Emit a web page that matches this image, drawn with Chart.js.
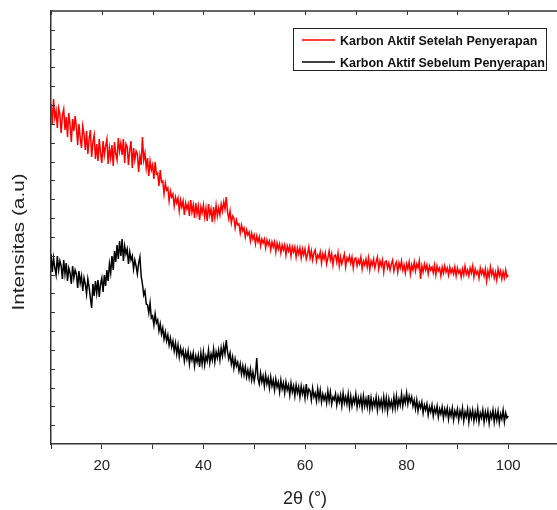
<!DOCTYPE html>
<html>
<head>
<meta charset="utf-8">
<script src="https://cdn.jsdelivr.net/npm/chart.js@4"></script>
<style>
  html, body { margin: 0; padding: 0; background: #fff; overflow: hidden; }
  #wrap { width: 557px; height: 510px; overflow: hidden; }
</style>
</head>
<body>
<div id="wrap"><canvas id="xrdChart" width="565" height="510"></canvas></div>
<script>
// 2θ grid of the scan (degrees)
const thetaStart = 10;
const thetaStep = 0.25;

// intensity (a.u.), one row per degree (x.00, x.25, x.50, x.75)
const setelah = [
  340, 320, 345, 326,  333, 316, 336, 330,  311, 329, 335, 314,  327, 307, 331, 319,  302, 325, 313, 328,
  317, 299, 320, 306,  296, 318, 310, 294,  313, 290, 305, 314,  287, 302, 309, 285,  300, 283, 305, 291,
  281, 303, 289, 298,  305, 280, 296, 286,  299, 278, 302, 290,  284, 306, 293, 301,  289, 305, 281, 300,
  297, 279, 294, 303,  276, 296, 284, 293,  290, 272, 288, 279,  307, 284, 291, 276,  286, 268, 283, 274,
  279, 265, 282, 270,  271, 258, 274, 262,  263, 250, 261, 254,  256, 243, 253, 247,  250, 238, 247, 241,
  246, 233, 244, 237,  243, 229, 241, 235,  240, 228, 244, 232,  239, 226, 241, 230,  238, 224, 237, 231,
  239, 227, 236, 223,  240, 229, 235, 222,  237, 226, 239, 228,  236, 229, 240, 233,  242, 235, 247, 232,
  225, 233, 221, 228,  226, 216, 224, 219,  220, 211, 219, 213,  216, 207, 214, 209,  212, 203, 211, 205,
  209, 200, 208, 202,  207, 198, 205, 201,  205, 196, 204, 199,  203, 194, 202, 197,  202, 192, 201, 195,
  200, 191, 199, 194,  199, 189, 198, 193,  198, 188, 197, 192,  197, 187, 196, 190,  196, 186, 195, 189,
  195, 185, 190, 197,  186, 193, 184, 191,  194, 183, 189, 186,  192, 181, 190, 185,  191, 180, 186, 193,
  184, 190, 179, 188,  189, 182, 191, 178,  187, 180, 185, 190,  177, 186, 183, 188,  181, 187, 176, 185,
  186, 178, 184, 180,  187, 175, 183, 179,  185, 177, 186, 174,  183, 179, 185, 176,  182, 187, 175, 183,
  178, 184, 172, 182,  183, 176, 181, 174,  180, 184, 173, 179,  182, 172, 181, 176,  183, 174, 179, 171,
  180, 175, 182, 170,  179, 174, 182, 173,  180, 176, 183, 165,  178, 172, 180, 174,  179, 170, 178, 174,
  177, 171, 179, 169,  178, 173, 176, 168,  177, 171, 178, 172,  176, 169, 177, 171,  175, 170, 177, 168,
  176, 171, 174, 167,  175, 169, 178, 170,  174, 168, 176, 171,  178, 167, 175, 170,  173, 166, 176, 170,
  174, 168, 175, 163,  173, 167, 177, 169,  174, 166, 172, 164,  175, 168, 173, 165,  172, 166, 174, 167,
  169
];

const sebelum = [
  190, 172, 186, 176,  169, 188, 174, 183,  178, 165, 184, 170,  181, 163, 176, 171,  160, 178, 166, 174,
  170, 156, 173, 161,  168, 153, 166, 160,  150, 165, 157, 146,  136, 160, 148, 163,  151, 164, 147, 160,
  166, 152, 169, 158,  174, 163, 180, 171,  188, 174, 193, 182,  199, 185, 203, 188,  205, 183, 198, 190,
  195, 180, 192, 184,  188, 175, 184, 178,  170, 181, 187, 168,  160, 149, 153, 140,  139, 131, 141, 126,
  128, 119, 130, 121,  124, 113, 120, 110,  116, 105, 112, 103,  109, 99, 106, 97,  103, 93, 101, 90,
  99, 87, 96, 89,  94, 83, 92, 85,  93, 80, 90, 84,  91, 78, 88, 82,  89, 77, 91, 80,
  92, 79, 88, 83,  94, 81, 90, 84,  95, 82, 92, 86,  94, 84, 96, 88,  98, 90, 104, 92,
  85, 91, 80, 87,  76, 85, 78, 82,  73, 80, 70, 78,  69, 77, 67, 74,  66, 75, 64, 72,
  63, 70, 86, 65,  60, 71, 62, 68,  58, 69, 60, 66,  56, 67, 58, 64,  54, 65, 57, 62,
  52, 64, 55, 61,  51, 62, 54, 59,  49, 61, 52, 58,  48, 59, 51, 57,  47, 58, 50, 56,
  46, 60, 48, 55,  53, 44, 56, 47,  51, 43, 55, 45,  54, 42, 50, 44,  49, 41, 53, 43,
  52, 40, 47, 44,  50, 39, 48, 42,  49, 38, 51, 41,  47, 40, 50, 37,  48, 38, 46, 41,
  50, 37, 46, 39,  47, 36, 48, 38,  45, 37, 49, 35,  46, 36, 44, 38,  47, 34, 45, 37,
  44, 35, 47, 36,  46, 33, 45, 37,  43, 35, 47, 36,  48, 37, 45, 39,  50, 38, 47, 41,
  51, 40, 48, 42,  47, 38, 44, 35,  44, 33, 41, 36,  42, 31, 39, 34,  40, 29, 37, 32,
  39, 28, 36, 31,  38, 27, 35, 30,  37, 26, 35, 29,  36, 25, 34, 28,  36, 24, 33, 28,
  35, 24, 33, 27,  36, 23, 32, 27,  35, 22, 33, 26,  34, 23, 32, 25,  35, 22, 31, 26,
  34, 22, 32, 25,  33, 21, 31, 26,  34, 22, 32, 24,  33, 21, 30, 25,  34, 22, 31, 26,
  28
];

const seriesNames = ['Karbon Aktif Setelah Penyerapan', 'Karbon Aktif Sebelum Penyerapan'];
const seriesColors = ['#ff0000', '#000000'];
const xTickLabels = [20, 40, 60, 80, 100];
const yTitle = 'Intensitas (a.u)';

const FONT = "'Liberation Sans', Arial, sans-serif";

const toPoints = (vals) => vals.map((v, i) => ({ x: thetaStart + i * thetaStep, y: v }));

const ctx = document.getElementById('xrdChart');

new Chart(ctx, {
  type: 'line',
  data: {
    datasets: [
      {
        label: seriesNames[0],
        data: toPoints(setelah),
        borderColor: seriesColors[0],
        borderWidth: 1.5,
        pointRadius: 0,
        tension: 0,
      },
      {
        label: seriesNames[1],
        data: toPoints(sebelum),
        borderColor: seriesColors[1],
        borderWidth: 1.5,
        pointRadius: 0,
        tension: 0,
      },
    ],
  },
  options: {
    responsive: false,
    animation: false,
    layout: {
      padding: { top: 11, right: 6, left: 0, bottom: 0 },
    },
    plugins: {
      legend: { display: false },
      tooltip: { enabled: false },
      boxLegend: {
        labels: seriesNames,
        colors: seriesColors,
      },
    },
    scales: {
      x: {
        type: 'linear',
        min: 10,
        max: 110,
        afterFit(axis) {
          axis.height = 66;
          axis.paddingLeft = 0;
          axis.paddingRight = 0;
        },
        ticks: {
          stepSize: 10,
          autoSkip: false,
          maxRotation: 0,
          padding: 8,
          color: '#222',
          font: { family: FONT, size: 15 },
          callback: (v) => (xTickLabels.includes(v) ? String(v) : ''),
        },
        grid: {
          drawOnChartArea: false,
          drawTicks: true,
          tickLength: 5,
          color: '#333',
        },
        border: { color: '#333', width: 1.5 },
        title: {
          display: true,
          text: '2θ (°)',
          color: '#222',
          font: { family: FONT, size: 18 },
          padding: { top: 0, bottom: 0 },
        },
      },
      y: {
        min: 0,
        max: 433,
        afterFit(axis) {
          axis.width = 51;
        },
        ticks: { display: false },
        grid: { display: false },
        border: { color: '#333', width: 1.5 },
        title: { display: false },
      },
    },
  },
  plugins: [
    {
      id: 'boxLegend',
      afterDraw(chart) {
        const opts = chart.options.plugins.boxLegend;
        const { ctx, chartArea, scales } = chart;
        ctx.save();

        // top border + inner ticks
        ctx.strokeStyle = '#333';
        ctx.lineWidth = 1.5;
        ctx.beginPath();
        ctx.moveTo(chartArea.left, chartArea.top);
        ctx.lineTo(chartArea.right, chartArea.top);
        ctx.stroke();

        ctx.lineWidth = 1;
        ctx.beginPath();
        for (let v = 10; v <= 110; v += 10) {
          const px = Math.round(scales.x.getPixelForValue(v)) + 0.5;
          ctx.moveTo(px, chartArea.top);
          ctx.lineTo(px, chartArea.top + 4);
        }
        // inner ticks on left axis
        const yStep = 433 / 23;
        for (let k = 1; k < 23; k++) {
          const py = Math.round(scales.y.getPixelForValue(k * yStep)) + 0.5;
          ctx.moveTo(chartArea.left, py);
          ctx.lineTo(chartArea.left + 4, py);
        }
        ctx.stroke();

        // y title (stretched a bit, like the original figure)
        ctx.save();
        ctx.translate(19, 242);
        ctx.rotate(-Math.PI / 2);
        ctx.scale(1.22, 1);
        ctx.fillStyle = '#222';
        ctx.font = `17px ${FONT}`;
        ctx.textAlign = 'center';
        ctx.textBaseline = 'middle';
        ctx.fillText(yTitle, 0, 0);
        ctx.restore();

        // legend box
        ctx.strokeStyle = '#222';
        ctx.lineWidth = 1;
        ctx.strokeRect(293.5, 28.5, 253, 42);
        const rows = [40, 62];
        opts.labels.forEach((label, i) => {
          ctx.strokeStyle = opts.colors[i];
          ctx.lineWidth = 1.3;
          ctx.beginPath();
          ctx.moveTo(302, rows[i]);
          ctx.lineTo(335, rows[i]);
          ctx.stroke();
          ctx.fillStyle = '#111';
          ctx.font = `bold 12.5px ${FONT}`;
          ctx.textBaseline = 'middle';
          ctx.fillText(label, 340, rows[i] + 1.5);
        });
        ctx.restore();
      },
    },
  ],
});
</script>
</body>
</html>
